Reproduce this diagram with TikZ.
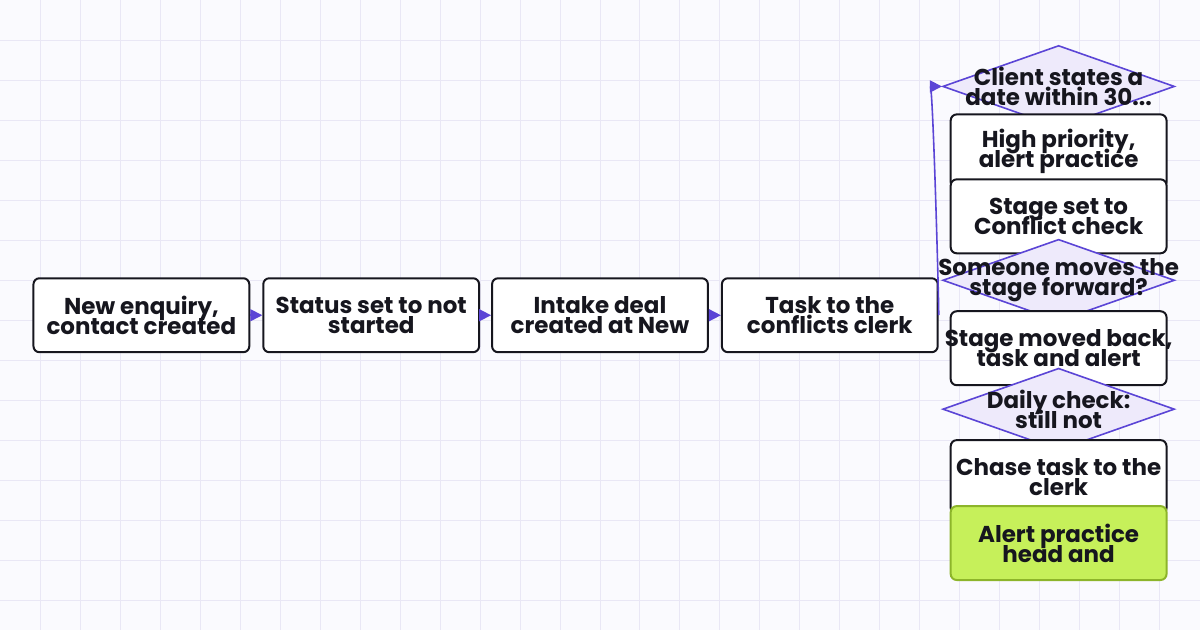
\documentclass[tikz,border=0pt]{standalone}
\usepackage{fontspec}
\setmainfont{Poppins}[BoldFont={* Bold}]
\usetikzlibrary{arrows.meta, positioning, shapes.geometric}
\definecolor{gridc}{HTML}{E9E7F5}
\definecolor{bgc}{HTML}{FAFAFE}
\definecolor{flow}{HTML}{5B45D6}
\definecolor{dfill}{HTML}{EEEAFB}
\definecolor{lime}{HTML}{C6F05A}
\definecolor{limeb}{HTML}{8DB52A}
\definecolor{ink}{HTML}{16161E}
\newcommand{\tightfont}{\fontsize{11.5}{10}\selectfont\lineskiplimit=-20pt\relax\bfseries}
\begin{document}
\begin{tikzpicture}[
  x=0.5pt, y=-0.5pt,
  font=\tightfont, text=ink,
  box/.style={draw=ink, line width=1pt, fill=white, rounded corners=3pt, align=center,
    minimum width=108pt, minimum height=37pt, inner sep=0pt},
  ask/.style={draw=flow, line width=0.8pt, fill=dfill, diamond, inner sep=0pt,
    minimum width=116pt, minimum height=41pt},
  dtext/.style={align=center, text=ink, inner sep=0pt},
  arrow/.style={-{Triangle[length=6pt,width=6pt]}, flow, line width=0.8pt}
]
\fill[bgc] (0,0) rectangle (1200,630);
\foreach \x in {40,80,...,1160} \draw[gridc, line width=0.5pt] (\x,0) -- (\x,630);
\foreach \y in {40,80,...,600} \draw[gridc, line width=0.5pt] (0,\y) -- (1200,\y);
\useasboundingbox (0,0) rectangle (1200,630);

% main row
\node[box] (enquiry) at (141,315) {New enquiry,\\contact created};
\node[box] (status) at (371,315) {Status set to not\\started};
\node[box] (deal) at (600,315) {Intake deal\\created at New};
\node[box] (clerk) at (830,315) {Task to the\\conflicts clerk};

% right column
\node[ask, label={[dtext]center:{Client states a\\date within 30...}}] (within) at (1059,86) {};
\node[box] (priority) at (1059,151) {High priority,\\alert practice};
\node[box] (conflict) at (1059,216) {Stage set to\\Conflict check};
\node[ask, label={[dtext]center:{Someone moves the\\stage forward?}}] (forward) at (1059,280) {};
\node[box] (moved) at (1059,348) {\makebox[104pt]{Stage moved back,}\\task and alert};
\node[ask, label={[dtext]center:{Daily check:\\still not}}] (daily) at (1059,409) {};
\node[box] (chase) at (1059,477) {Chase task to the\\clerk};
\node[box, fill=lime, draw=limeb] (head) at (1059,543) {Alert practice\\head and};

\draw[arrow] (enquiry) -- (status);
\draw[arrow] (status) -- (deal);
\draw[arrow] (deal) -- (clerk);
\draw[arrow] (clerk.east) to[out=88, in=180, looseness=0.1] (within.west);
\end{tikzpicture}
\end{document}
